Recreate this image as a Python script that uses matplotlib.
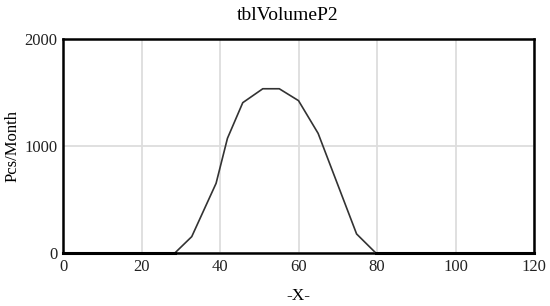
import matplotlib
matplotlib.use("Agg")
import matplotlib.pyplot as plt

x_vals = [0, 28.5, 32.8, 39.0, 41.9, 45.8, 50.9, 55.1, 60.0, 65.0, 74.8, 79.7, 120]
y_vals = [0, 0, 153, 651, 1072, 1405, 1535, 1535, 1424, 1118, 178, 0, 0]
x_ticks = [0, 20, 40, 60, 80, 100, 120]
y_ticks = [0, 1000, 2000]

plt.rcParams['font.family'] = ['Liberation Serif', 'DejaVu Serif']

fig = plt.figure(figsize=(5.5, 3.06), dpi=100)
L, R, T, B = 63, 534, 39, 253
ax = fig.add_axes([L / 550, 1 - B / 306, (R - L) / 550, (B - T) / 306])
ax.plot(x_vals, y_vals, color='#333333', linewidth=1.2, zorder=3, clip_on=False)
ax.plot([x_vals[0], x_vals[1]], [0, 0], color='black', linewidth=2.2, zorder=4, clip_on=False)
ax.plot([x_vals[-2], x_vals[-1]], [0, 0], color='black', linewidth=2.2, zorder=4, clip_on=False)
ax.set_xlim(0, 120)
ax.set_ylim(0, 2000)
ax.set_xticks(x_ticks)
ax.set_yticks(y_ticks)
ax.tick_params(length=0, labelsize=12, colors='#222222')
ax.tick_params(axis='x', pad=4.5)
ax.tick_params(axis='y', pad=4)
ax.grid(True, color='#dddddd', linewidth=1.3)
ax.set_axisbelow(True)
for s in ax.spines.values():
    s.set_linewidth(1.8)
    s.set_color('black')
ax.set_title('tblVolumeP2', fontsize=14, pad=14, x=(288 - L) / (R - L))
ax.set_xlabel('-X-', fontsize=12.5, labelpad=9)
ax.set_ylabel('Pcs/Month', fontsize=12, labelpad=3)
fig.savefig('out.png', dpi=100)
